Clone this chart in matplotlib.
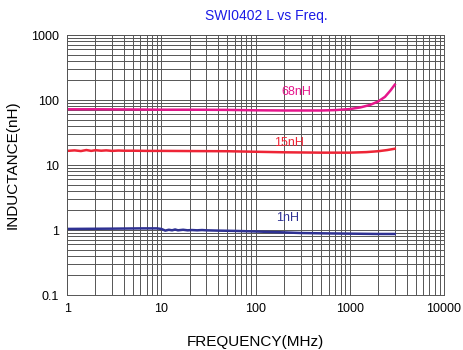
import matplotlib
matplotlib.use('Agg')
import matplotlib.pyplot as plt
from matplotlib.ticker import FixedLocator, FixedFormatter, LogLocator, NullFormatter

plt.rcParams['font.family'] = ['Liberation Sans', 'DejaVu Sans']

# 68nH
f_68 = [1, 2, 5, 10, 20, 50, 100, 200, 500, 700, 1000, 1300, 1640, 2000, 2365, 2700, 3000]
l_68 = [72, 72, 71.5, 71, 71, 70.5, 69.5, 69, 69, 70, 72.5, 77, 84, 95, 112, 140, 172]

# 15nH
f_15 = [1, 1.2, 1.4, 1.6, 1.8, 2, 2.3, 2.6, 3, 3.5, 4, 5, 7, 10, 20, 50, 100, 200,
        500, 1000, 1500, 2000, 2500, 3000]
l_15 = [16.5, 16.8, 16.4, 17, 16.5, 16.9, 16.6, 16.8, 16.5, 16.7, 16.6, 16.6, 16.5,
        16.5, 16.4, 16.3, 16.0, 15.7, 15.5, 15.5, 15.8, 16.3, 17.0, 17.8]

# 1nH
f_1 = [1, 3, 6, 9, 10, 11, 12, 13, 14, 15, 17, 19, 21, 24, 27, 30, 40, 60, 100,
       200, 300, 500, 1000, 2000, 3000]
l_1 = [1.04, 1.05, 1.06, 1.06, 1.04, 0.98, 1.01, 0.99, 1.02, 0.99, 1.01, 0.99, 1.0,
       0.99, 1.0, 0.99, 0.98, 0.97, 0.95, 0.92, 0.9, 0.89, 0.88, 0.87, 0.87]

x_ticks = [1, 10, 100, 1000, 10000]
x_labels = ['1', '10', '100', '1000', '10000']
y_ticks = [0.1, 1, 10, 100, 1000]
y_labels = ['0.1', '1', '10', '100', '1000']

fig = plt.figure(figsize=(4.63, 3.5), dpi=100)
ax = fig.add_axes([0.145, 0.157, 0.814, 0.743])

ax.plot(f_68, l_68, color='#E6168C', lw=1.8)
ax.plot(f_15, l_15, color='#EE2536', lw=1.8)
ax.plot(f_1, l_1, color='#2E3192', lw=1.8)

ax.set_xscale('log')
ax.set_yscale('log')
ax.set_xlim(1, 10000)
ax.set_ylim(0.1, 1000)

ax.xaxis.set_major_locator(FixedLocator(x_ticks))
ax.xaxis.set_major_formatter(FixedFormatter(x_labels))
ax.yaxis.set_major_locator(FixedLocator(y_ticks))
ax.yaxis.set_major_formatter(FixedFormatter(y_labels))
ax.xaxis.set_minor_locator(LogLocator(base=10, subs=range(2, 10)))
ax.yaxis.set_minor_locator(LogLocator(base=10, subs=range(2, 10)))
ax.xaxis.set_minor_formatter(NullFormatter())
ax.yaxis.set_minor_formatter(NullFormatter())

ax.grid(which='both', color='#555555', lw=0.7)
ax.tick_params(which='both', length=0, labelsize=9, pad=6)
for s in ax.spines.values():
    s.set_color('#555555')
    s.set_linewidth(0.7)

ax.text(270, 133, '68nH', color='#E6168C', fontsize=9, ha='center', va='center')
ax.text(226, 21.8, '15nH', color='#EE2536', fontsize=9, ha='center', va='center')
ax.text(221, 1.53, '1nH', color='#2E3192', fontsize=9, ha='center', va='center')

fig.text(266 / 463, 1 - 16 / 350, 'SWI0402 L vs Freq.', color='#1A1AE6', fontsize=10,
         ha='center', va='center')
ax.set_xlabel('FREQUENCY(MHz)', fontsize=11, labelpad=14)
ax.set_ylabel('INDUCTANCE(nH)', fontsize=11, labelpad=8)

fig.savefig('out.png', dpi=100)
